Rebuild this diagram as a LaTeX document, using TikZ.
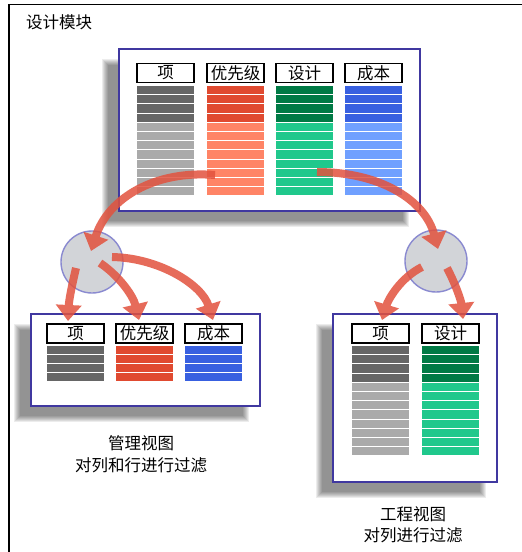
\documentclass[tikz,border=0pt]{standalone}
\usepackage{fontspec}
\newfontfamily\cjk{Noto Sans CJK SC}
\usetikzlibrary{arrows.meta}
\definecolor{gdark}{RGB}{102,102,102}
\definecolor{glight}{RGB}{170,170,170}
\definecolor{rdark}{RGB}{224,74,48}
\definecolor{rlight}{RGB}{255,132,102}
\definecolor{edark}{RGB}{0,122,69}
\definecolor{elight}{RGB}{32,200,140}
\definecolor{bdark}{RGB}{56,96,224}
\definecolor{blight}{RGB}{112,160,255}
\definecolor{panelline}{RGB}{64,56,160}
\definecolor{hubfill}{RGB}{210,212,216}
\definecolor{hubline}{RGB}{138,138,208}
\definecolor{arrowc}{RGB}{226,82,62}
\newcommand\colstripes[6]{%
  \foreach \i in {1,...,#3}{%
    \ifnum\i<5
      \fill[#5] (#1,{#2+(\i-1)*#4}) rectangle ++(57,{#4-1.1});
    \else
      \fill[#6] (#1,{#2+(\i-1)*#4}) rectangle ++(57,{#4-1.1});
    \fi}}
\newcommand\panelshadow[4]{%
  \foreach \k in {0,...,6}{%
    \fill[black,opacity=0.075] ({#1-14+3-\k},{#2+13+3-\k}) rectangle ({#3-14-3+\k},{#4+13-3+\k});}}
\begin{document}
\begin{tikzpicture}[x=1pt,y=-1pt,
  hdr/.style={draw,line width=1.1pt,fill=white,minimum width=57pt,minimum height=19pt,inner sep=0pt,font=\cjk\fontsize{16.5}{17}\selectfont},
  panel/.style={draw=panelline,line width=1.4pt,fill=white,inner sep=0pt},
  hub/.style={circle,draw=hubline,line width=1.4pt,fill=hubfill,minimum size=62pt,inner sep=0pt},
  flow/.style={draw=arrowc,line width=8pt,-{Triangle[width=25pt,length=16pt]}},
  lbl/.style={align=center,font=\cjk\fontsize{16.5}{21.5}\selectfont,inner sep=0pt}]
\useasboundingbox (0,0) rectangle (522,552);
\fill[white] (0,0) rectangle (522,552);
\draw[line width=1.3pt] (9,552) -- (9,4.5) -- (522,4.5);
\node[anchor=west,font=\cjk\fontsize{16.5}{17}\selectfont,inner sep=0pt] (title) at (26,22) {设计模块};

% top panel
\panelshadow{119}{49}{420}{211}
\node[panel,minimum width=301pt,minimum height=162pt] (top) at (269.5,130) {};
\node[hdr] (th1) at (165.5,73) {项};
\node[hdr] (th2) at (235.5,73) {优先级};
\node[hdr] (th3) at (304.5,73) {设计};
\node[hdr] (th4) at (373.5,73) {成本};
\colstripes{137}{86}{12}{9.2}{gdark}{glight}
\colstripes{207}{86}{12}{9.2}{rdark}{rlight}
\colstripes{276}{86}{12}{9.2}{edark}{elight}
\colstripes{345}{86}{12}{9.2}{bdark}{blight}

% left panel
\panelshadow{31}{314}{260}{406}
\node[panel,minimum width=229pt,minimum height=92pt] (lp) at (145.5,360) {};
\node[hdr] (lh1) at (75.5,333.5) {项};
\node[hdr] (lh2) at (144.5,333.5) {优先级};
\node[hdr] (lh3) at (213.5,333.5) {成本};
\colstripes{47}{346}{4}{9}{gdark}{gdark}
\colstripes{116}{346}{4}{9}{rdark}{rdark}
\colstripes{185}{346}{4}{9}{bdark}{bdark}

% right panel
\panelshadow{333}{314}{497}{482}
\node[panel,minimum width=164pt,minimum height=168pt] (rp) at (415,398) {};
\node[hdr] (rh1) at (380.5,333.5) {项};
\node[hdr] (rh2) at (450.5,333.5) {设计};
\colstripes{352}{346}{12}{9.2}{gdark}{glight}
\colstripes{422}{346}{12}{9.2}{edark}{elight}

% hubs
\node[hub] (lc) at (92,262) {};
\node[hub] (rc) at (436,261) {};

% labels
\node[lbl] (lt) at (141,454) {管理视图\\对列和行进行过滤};
\node[lbl] (rt) at (413,525) {工程视图\\对列进行过滤};

% arrow endpoints
\coordinate (s1) at (215,175);
\coordinate (e1) at (91,251);
\coordinate (s2) at (317,172);
\coordinate (e2) at (438,249);
\coordinate (ls1) at (76,268);
\coordinate (ls2) at (100,263);
\coordinate (ls3) at (112,257);
\coordinate (rs1) at (422,267);
\coordinate (rs2) at (447,268);
\coordinate (le1) at (68,321);
\coordinate (le2) at (139,320);
\coordinate (le3) at (213,320);
\coordinate (re1) at (382,320);
\coordinate (re2) at (463,319);

\begin{scope}[transparency group,opacity=0.85]
\draw[flow] (s1) .. controls (155,170) and (108,198) .. (e1);
\end{scope}
\begin{scope}[transparency group,opacity=0.85]
\draw[flow] (s2) .. controls (380,172) and (425,200) .. (e2);
\end{scope}
\begin{scope}[transparency group,opacity=0.85]
\draw[flow] (ls1) .. controls (72,285) and (69,300) .. (le1);
\end{scope}
\begin{scope}[transparency group,opacity=0.85]
\draw[flow] (ls2) .. controls (118,275) and (133,295) .. (le2);
\end{scope}
\begin{scope}[transparency group,opacity=0.85]
\draw[flow] (ls3) .. controls (160,258) and (202,285) .. (le3);
\end{scope}
\begin{scope}[transparency group,opacity=0.85]
\draw[flow] (rs1) .. controls (400,278) and (388,300) .. (re1);
\end{scope}
\begin{scope}[transparency group,opacity=0.85]
\draw[flow] (rs2) .. controls (455,283) and (461,300) .. (re2);
\end{scope}
\end{tikzpicture}
\end{document}
